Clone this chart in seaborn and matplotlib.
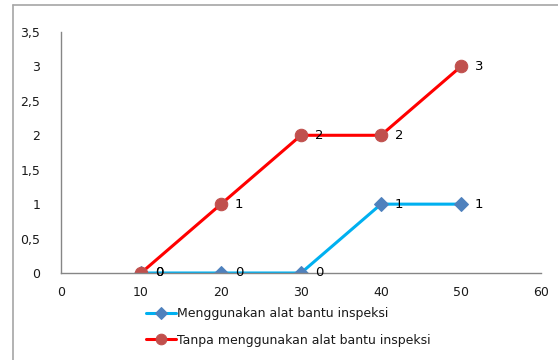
import matplotlib
matplotlib.use("Agg")
import matplotlib.pyplot as plt
import matplotlib.ticker as mticker
from matplotlib.patches import Rectangle
import pandas as pd
import seaborn as sns

x_values = [10, 20, 30, 40, 50]
with_tool = [0, 0, 0, 1, 1]
without_tool = [0, 1, 2, 2, 3]
label_with = "Menggunakan alat bantu inspeksi"
label_without = "Tanpa menggunakan alat bantu inspeksi"

sns.set_theme(style="white")
plt.rcParams["font.family"] = ["DejaVu Sans"]

fig = plt.figure(figsize=(5.58, 3.6), dpi=100)
fig.patch.set_facecolor("white")
# outer chart frame, open to the right and bottom
frame_left = 13 / 558
frame_top = 355 / 360
fig.add_artist(plt.Line2D([frame_left, frame_left], [-0.1, frame_top],
                          transform=fig.transFigure, color="#a6a6a6", linewidth=1.2))
fig.add_artist(plt.Line2D([frame_left, 1.1], [frame_top, frame_top],
                          transform=fig.transFigure, color="#a6a6a6", linewidth=1.2))

ax = fig.add_axes([61 / 558, 87 / 360, 480 / 558, 241 / 360])

df1 = pd.DataFrame({"x": x_values, "y": with_tool})
df2 = pd.DataFrame({"x": x_values, "y": without_tool})

sns.lineplot(data=df1, x="x", y="y", ax=ax, color="#00b0f0", linewidth=2.2,
             marker="D", markersize=7, markerfacecolor="#4f81bd",
             markeredgecolor="#4f81bd", label=label_with)
sns.lineplot(data=df2, x="x", y="y", ax=ax, color="#ff0000", linewidth=2.2,
             marker="o", markersize=9, markerfacecolor="#c0504d",
             markeredgecolor="#c0504d", label=label_without)

for xs, ys in ((x_values, with_tool), (x_values, without_tool)):
    for xv, yv in zip(xs, ys):
        ax.annotate(f"{yv}", (xv, yv), xytext=(10, 0), textcoords="offset points",
                    ha="left", va="center", fontsize=9.5, color="black")

ax.set_xlim(0, 60)
ax.set_ylim(0, 3.5)
ax.set_xticks(range(0, 61, 10))
ax.set_yticks([0, 0.5, 1, 1.5, 2, 2.5, 3, 3.5])
ax.yaxis.set_major_formatter(mticker.FuncFormatter(
    lambda v, _: (f"{v:g}").replace(".", ",")))
ax.set_xlabel("")
ax.set_ylabel("")
for side in ("top", "right"):
    ax.spines[side].set_visible(False)
for side in ("left", "bottom"):
    ax.spines[side].set_color("#868686")
    ax.spines[side].set_linewidth(1)
ax.tick_params(axis="both", length=0, labelsize=9, colors="#1a1a1a")
ax.tick_params(axis="y", pad=15)
ax.tick_params(axis="x", pad=9)

leg = ax.legend(loc="upper left", bbox_to_anchor=(146 / 558, 53 / 360),
                bbox_transform=fig.transFigure, frameon=False, fontsize=9,
                handlelength=2.4, handletextpad=0.1, labelspacing=1.1,
                borderpad=0, borderaxespad=0, markerscale=0.85)
for t in leg.get_texts():
    t.set_color("#1a1a1a")

fig.savefig("out.png", dpi=100, facecolor="white")
